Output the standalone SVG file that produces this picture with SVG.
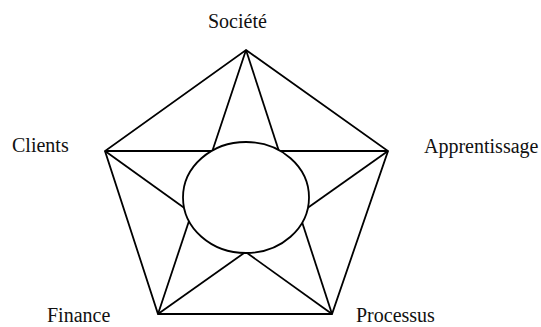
<svg xmlns="http://www.w3.org/2000/svg" width="541" height="327" viewBox="0 0 541 327">
<style>
.l{stroke:#000;stroke-width:1.8;fill:none;stroke-linejoin:miter}
.t{font-family:"Liberation Serif","Times New Roman",serif;font-size:20px;fill:#111}
</style>
<rect width="541" height="327" fill="#fff"/>
<g id="connectors">
<polygon class="l" points="246,50 388,151 332,314 158,314 105,151"/>
<line class="l" x1="246" y1="50" x2="158" y2="314"/>
<line class="l" x1="246" y1="50" x2="332" y2="314"/>
<line class="l" x1="105" y1="151" x2="388" y2="151"/>
<line class="l" x1="105" y1="151" x2="332" y2="314"/>
<line class="l" x1="388" y1="151" x2="158" y2="314"/>
</g>
<g id="centre"><ellipse class="l" cx="246" cy="197.5" rx="63" ry="55.5" style="fill:#fff"/></g>
<g id="societe"><text class="t" x="208" y="28">Société</text></g>
<g id="clients"><text class="t" x="12" y="152">Clients</text></g>
<g id="apprentissage"><text class="t" x="424" y="153">Apprentissage</text></g>
<g id="finance"><text class="t" x="47" y="322">Finance</text></g>
<g id="processus"><text class="t" x="356" y="322">Processus</text></g>
</svg>
